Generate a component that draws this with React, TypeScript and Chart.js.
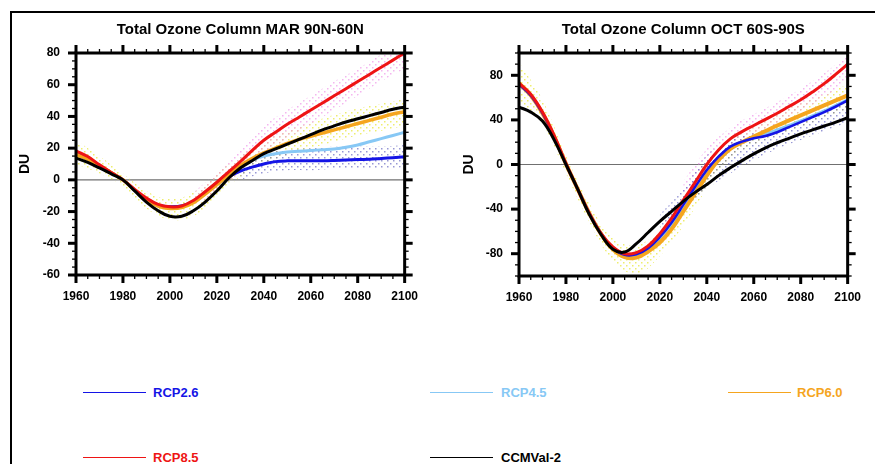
import React, { useEffect, useRef } from "react";
import { Chart, registerables } from "chart.js";
Chart.register(...registerables);

const FONT = "'Liberation Sans', Arial, Helvetica, sans-serif";

// ---------- shared axes ----------
const years = [1960, 1965, 1970, 1975, 1980, 1985, 1990, 1995, 2000, 2005, 2010, 2015, 2020, 2025, 2030, 2035, 2040, 2045, 2050, 2055, 2060, 2065, 2070, 2075, 2080, 2085, 2090, 2095, 2100];
const xTicks = [1960, 1980, 2000, 2020, 2040, 2060, 2080, 2100];
const marYTicks = [-60, -40, -20, 0, 20, 40, 60, 80];
const octYTicks = [-80, -40, 0, 40, 80];

// ---------- MAR 90N-60N ----------
const marRCP26 = [16.5, 13, 9, 4.5, 0, -6.5, -12, -16, -17, -16.5, -13.5, -8, -2, 2, 5.5, 8, 10, 11.5, 12, 12, 12, 12, 12.2, 12.5, 12.8, 13, 13.5, 14, 14.5];
const marRCP45 = [16.5, 13, 9, 4.5, 0, -6.5, -12, -16, -17, -16.5, -13.5, -8.5, -2.5, 3, 8.5, 12.5, 15, 16.5, 17.5, 18, 18.5, 19, 19.5, 20.5, 22, 24, 26, 28, 30];
const marRCP60 = [16, 13, 9, 4.5, 0, -6.5, -12.5, -16.5, -18, -17.5, -14.5, -9, -3, 3, 9, 13.5, 17, 20, 23, 25.5, 27.5, 29.5, 31.5, 33.5, 35.5, 37.5, 39.5, 41.5, 43];
const marRCP85 = [18.3, 14.7, 9.5, 4.6, 0, -6, -11.5, -15.5, -17, -16.5, -13, -7.5, -1.5, 5, 11.5, 18.5, 25, 30, 35, 39.5, 44, 48.5, 53, 57.5, 62, 66.5, 71, 75.5, 80];
const marCCMVal = [13.7, 11, 7.5, 3.8, 0, -7, -14, -19.5, -23, -23, -19.5, -14, -7, 1, 7.5, 12, 16.5, 19.5, 22.5, 25.5, 28.5, 31.5, 34, 36.5, 38.5, 40.5, 42.5, 44.5, 46];

const marBandYears = [1960, 1970, 1980, 1990, 2000, 2010, 2020, 2030, 2040, 2050, 2060, 2070, 2080, 2090, 2100];
const marYellowHigh = [25, 15, 4, -7, -12, -8, 4, 15, 24, 31, 36, 41, 45, 48, 51];
const marYellowLow = [10, 4, -4, -18, -25, -23, -11, 2, 10, 16, 20, 24, 28, 31, 34];
const marPinkYears = [2010, 2020, 2030, 2040, 2050, 2060, 2070, 2080, 2090, 2100];
const marPinkHigh = [-8, 5, 20, 34, 44, 53, 62, 70, 79, 87];
const marPinkLow = [-18, -7, 5, 17, 26, 35, 44, 53, 62, 70];
const marPurpleYears = [2030, 2040, 2050, 2060, 2070, 2080, 2090, 2100];
const marPurpleHigh = [8, 16, 19, 20, 21, 21, 21, 22];
const marPurpleLow = [0, 4, 6, 6, 7, 7, 7, 8];

// ---------- OCT 60S-90S ----------
const octRCP26 = [72, 62, 46, 25, 0.5, -22, -44, -62, -75, -81, -80.5, -75, -65, -52, -36, -20, -5, 7, 16, 20.5, 23.5, 25.5, 29, 33.5, 38, 42.5, 47, 52, 57.5];
const octRCP45 = [72, 62, 46, 25, 0.5, -22, -44, -62, -75.5, -82, -82, -77, -68, -55, -39, -23, -7, 6, 15, 20, 24, 27.5, 31, 35, 39, 43.5, 48, 53, 58];
const octRCP60 = [73, 62, 46, 25, 0.5, -22, -44, -62.5, -76, -83, -83.5, -78, -70, -58, -42, -26, -10, 4, 14, 20, 25, 30, 35, 39.5, 44, 48.5, 53, 57.5, 62];
const octRCP85 = [73, 63, 47, 26, 1, -22, -44, -62, -74, -80, -79, -73, -62, -48, -32, -16, 0, 13, 23, 29.5, 35, 40.5, 46, 52, 58, 65, 72.5, 81, 90];
const octCCMVal = [51.5, 47, 39, 22, 0, -22, -45, -63, -76, -78.5, -71, -61, -51, -42, -33, -25, -18, -10, -3, 3.5, 9.5, 15, 19.5, 23.5, 27.5, 31, 34.5, 38, 42];

const octBandYears = [1960, 1970, 1980, 1990, 2000, 2010, 2020, 2030, 2040, 2050, 2060, 2070, 2080, 2090, 2100];
const octYellowHigh = [92, 58, 8, -35, -66, -72, -58, -30, 5, 25, 36, 46, 55, 63, 72];
const octYellowLow = [58, 36, -8, -52, -86, -98, -82, -55, -22, 5, 18, 26, 34, 42, 50];
const octPinkYears = [2030, 2040, 2050, 2060, 2070, 2080, 2090, 2100];
const octPinkHigh = [-15, 14, 33, 45, 56, 68, 82, 98];
const octPinkLow = [-40, -10, 12, 24, 36, 48, 60, 76];
const octPurpleYears = [2020, 2030, 2040, 2050, 2060, 2070, 2080, 2090, 2100];
const octPurpleHigh = [-45, -22, 8, 22, 28, 33, 40, 48, 55];
const octPurpleLow = [-68, -42, -22, -8, 4, 14, 22, 30, 38];

const C_BLUE = "#1414e6";
const C_LBLUE = "#87c8f5";
const C_ORANGE = "#f5a51e";
const C_RED = "#ee1414";
const C_BLACK = "#000000";

function dots(color: string) {
  const c = document.createElement("canvas");
  c.width = 6;
  c.height = 6;
  const g = c.getContext("2d")!;
  g.fillStyle = color;
  g.fillRect(0, 0, 1.5, 1.5);
  g.fillRect(3, 3, 1.5, 1.5);
  return g.createPattern(c, "repeat");
}

function pts(xs: number[], ys: number[]) {
  return xs.map((x, i) => ({ x, y: ys[i] }));
}

function lineDs(label: string, ys: number[], color: string, width: number) {
  return {
    label,
    data: pts(years, ys),
    borderColor: color,
    backgroundColor: color,
    borderWidth: width,
    pointRadius: 0,
    tension: 0.4,
    fill: false,
  };
}

function bandDs(xs: number[], lo: number[], hi: number[], pattern: any) {
  return [
    { label: "_band", data: pts(xs, hi), borderWidth: 0, borderColor: "rgba(0,0,0,0)", pointRadius: 0, tension: 0.4, fill: "+1", backgroundColor: pattern },
    { label: "_band", data: pts(xs, lo), borderWidth: 0, borderColor: "rgba(0,0,0,0)", pointRadius: 0, tension: 0.4, fill: false },
  ];
}

const framePlugin = {
  id: "nclFrame",
  beforeDatasetsDraw(chart: any) {
    const { ctx, chartArea: a, scales } = chart;
    const y0 = scales.y.getPixelForValue(0);
    ctx.save();
    ctx.strokeStyle = "#707070";
    ctx.lineWidth = 1.2;
    ctx.beginPath();
    ctx.moveTo(a.left, y0);
    ctx.lineTo(a.right, y0);
    ctx.stroke();
    ctx.restore();
  },
  afterDraw(chart: any, _args: any, opts: any) {
    const { ctx, chartArea: a, scales } = chart;
    const x = scales.x;
    const y = scales.y;
    const seg = (x1: number, y1: number, x2: number, y2: number) => {
      ctx.beginPath();
      ctx.moveTo(x1, y1);
      ctx.lineTo(x2, y2);
      ctx.stroke();
    };
    ctx.save();
    ctx.strokeStyle = "#000";
    ctx.lineWidth = 1.3;
    for (let v = x.min; v <= x.max + 1e-6; v += opts.minorX) {
      const p = x.getPixelForValue(v);
      seg(p, a.top, p, a.top - 4);
      seg(p, a.bottom, p, a.bottom + 4);
    }
    for (let v = y.min; v <= y.max + 1e-6; v += opts.minorY) {
      const p = y.getPixelForValue(v);
      seg(a.left, p, a.left - 4, p);
      seg(a.right, p, a.right + 4, p);
    }
    ctx.lineWidth = 3;
    x.ticks.forEach((t: any) => {
      const p = x.getPixelForValue(t.value);
      seg(p, a.top, p, a.top - 8);
      seg(p, a.bottom, p, a.bottom + 8);
    });
    y.ticks.forEach((t: any) => {
      const p = y.getPixelForValue(t.value);
      seg(a.left, p, a.left - 8, p);
      seg(a.right, p, a.right + 8, p);
    });
    ctx.lineWidth = 3;
    ctx.strokeRect(a.left, a.top, a.right - a.left, a.bottom - a.top);
    ctx.restore();
  },
};

function makeConfig(p: {
  title: string;
  datasets: any[];
  yMin: number;
  yMax: number;
  yTicks: number[];
  minorY: number;
  yWidth: number;
  yTitlePad: number;
  padRight: number;
}) {
  return {
    type: "line",
    data: { datasets: p.datasets },
    plugins: [framePlugin],
    options: {
      responsive: false,
      animation: false,
      devicePixelRatio: 1,
      layout: { padding: { left: 0, right: p.padRight, top: 0, bottom: 0 } },
      plugins: {
        legend: { display: false },
        tooltip: { enabled: false },
        title: {
          display: true,
          text: p.title,
          color: "#000",
          fullSize: false,
          font: { family: FONT, size: 15, weight: "bold", lineHeight: 1.2 },
          padding: { top: 8, bottom: 14 },
        },
        nclFrame: { minorX: 5, minorY: p.minorY },
      },
      scales: {
        x: {
          type: "linear",
          min: 1960,
          max: 2100,
          grid: { display: false, drawTicks: false },
          border: { display: false },
          afterBuildTicks: (s: any) => {
            s.ticks = xTicks.map((v) => ({ value: v }));
          },
          afterFit: (s: any) => {
            s.height = 35;
          },
          ticks: {
            padding: 14,
            color: "#000",
            maxRotation: 0,
            autoSkip: false,
            font: { family: FONT, size: 12, weight: "bold" },
            callback: (v: any) => String(v),
          },
        },
        y: {
          type: "linear",
          min: p.yMin,
          max: p.yMax,
          grid: { display: false, drawTicks: false },
          border: { display: false },
          afterBuildTicks: (s: any) => {
            s.ticks = p.yTicks.map((v) => ({ value: v }));
          },
          afterFit: (s: any) => {
            s.width = p.yWidth;
          },
          title: {
            display: true,
            text: "DU",
            color: "#000",
            font: { family: FONT, size: 14, weight: "bold", lineHeight: 1.2 },
            padding: { top: p.yTitlePad, bottom: 0 },
          },
          ticks: {
            padding: 16,
            color: "#000",
            autoSkip: false,
            font: { family: FONT, size: 12, weight: "bold" },
            callback: (v: any) => String(v),
          },
        },
      },
    },
  };
}

function ChartBox(props: { left: number; top: number; width: number; height: number; build: () => any }) {
  const ref = useRef<HTMLCanvasElement | null>(null);
  useEffect(() => {
    if (!ref.current) return;
    const chart = new Chart(ref.current, props.build());
    return () => chart.destroy();
  }, []);
  return (
    <canvas
      ref={ref}
      width={props.width}
      height={props.height}
      style={{ position: "absolute", left: props.left, top: props.top, width: props.width, height: props.height }}
    />
  );
}

const legendItems = [
  { label: "RCP2.6", color: C_BLUE, lineX: 83, textX: 153, y: 393 },
  { label: "RCP4.5", color: C_LBLUE, lineX: 430, textX: 501, y: 393 },
  { label: "RCP6.0", color: C_ORANGE, lineX: 728, textX: 797, y: 393 },
  { label: "RCP8.5", color: C_RED, lineX: 83, textX: 153, y: 458 },
  { label: "CCMVal-2", color: C_BLACK, lineX: 430, textX: 501, y: 458 },
];

export default function App() {
  const buildMar = () => {
    const yellow = dots("rgba(232,232,60,0.75)");
    const pink = dots("rgba(240,150,232,0.7)");
    const purple = dots("rgba(95,95,190,0.65)");
    return makeConfig({
      title: "Total Ozone Column MAR 90N-60N",
      datasets: [
        lineDs("CCMVal-2", marCCMVal, C_BLACK, 3),
        lineDs("RCP8.5", marRCP85, C_RED, 3),
        lineDs("RCP6.0", marRCP60, C_ORANGE, 3.5),
        lineDs("RCP2.6", marRCP26, C_BLUE, 3),
        lineDs("RCP4.5", marRCP45, C_LBLUE, 3),
        ...bandDs(marPurpleYears, marPurpleLow, marPurpleHigh, purple),
        ...bandDs(marPinkYears, marPinkLow, marPinkHigh, pink),
        ...bandDs(marBandYears, marYellowLow, marYellowHigh, yellow),
      ],
      yMin: -60,
      yMax: 80,
      yTicks: marYTicks,
      minorY: 5,
      yWidth: 64,
      yTitlePad: 4.6,
      padRight: 24,
    });
  };
  const buildOct = () => {
    const yellow = dots("rgba(232,232,60,0.75)");
    const pink = dots("rgba(240,150,232,0.7)");
    const purple = dots("rgba(95,95,190,0.65)");
    return makeConfig({
      title: "Total Ozone Column OCT 60S-90S",
      datasets: [
        lineDs("CCMVal-2", octCCMVal, C_BLACK, 3),
        lineDs("RCP8.5", octRCP85, C_RED, 3),
        lineDs("RCP2.6", octRCP26, C_BLUE, 2.6),
        lineDs("RCP6.0", octRCP60, C_ORANGE, 4),
        lineDs("RCP4.5", octRCP45, C_LBLUE, 3),
        ...bandDs(octPurpleYears, octPurpleLow, octPurpleHigh, purple),
        ...bandDs(octPinkYears, octPinkLow, octPinkHigh, pink),
        ...bandDs(octBandYears, octYellowLow, octYellowHigh, yellow),
      ],
      yMin: -100,
      yMax: 100,
      yTicks: octYTicks,
      minorY: 10,
      yWidth: 79,
      yTitlePad: 20.6,
      padRight: 22,
    });
  };

  return (
    <div style={{ position: "fixed", left: 0, top: 0, width: 875, height: 464, overflow: "hidden", background: "#fff", fontFamily: FONT }}>
      <div style={{ position: "absolute", left: 10, top: 11, width: 900, height: 500, borderLeft: "2px solid #000", borderTop: "2px solid #000" }} />
      <ChartBox left={12} top={13} width={420} height={297} build={buildMar} />
      <ChartBox left={440} top={13} width={435} height={298} build={buildOct} />
      {legendItems.map((it) => (
        <React.Fragment key={it.label}>
          <div style={{ position: "absolute", left: it.lineX, top: it.y - 1, width: 63, height: 1, background: it.color }} />
          <div
            style={{
              position: "absolute",
              left: it.textX,
              top: it.y - 8,
              height: 16,
              lineHeight: "16px",
              fontSize: 13,
              fontWeight: "bold",
              color: it.color,
              whiteSpace: "nowrap",
            }}
          >
            {it.label}
          </div>
        </React.Fragment>
      ))}
    </div>
  );
}
